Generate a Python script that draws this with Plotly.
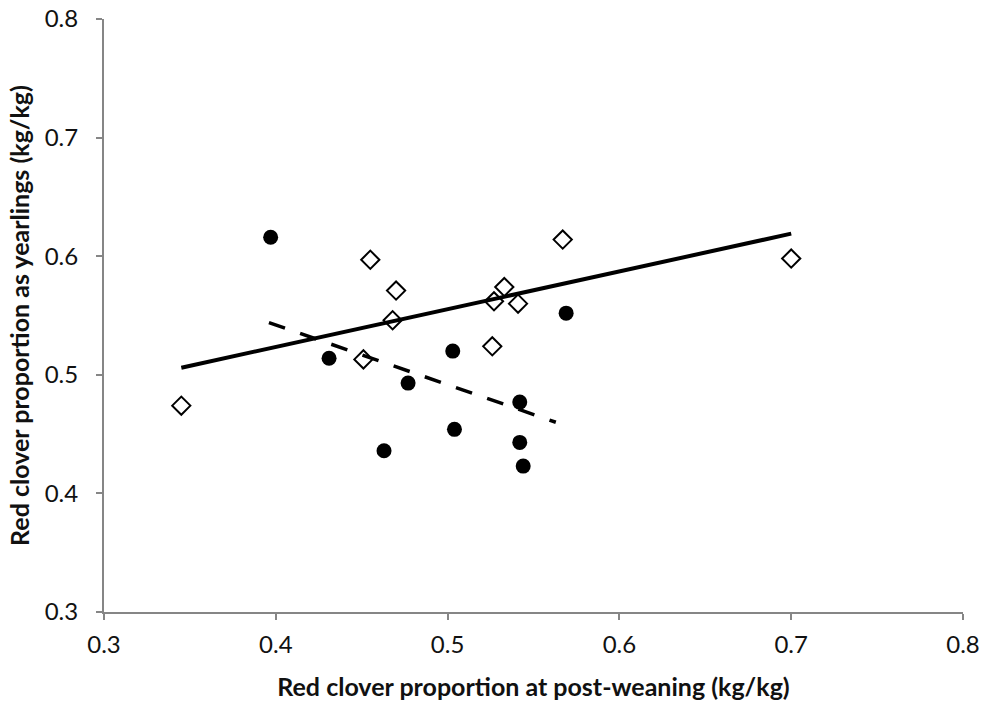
import plotly.graph_objects as go

# Filled circles series
circle_x = [0.397, 0.431, 0.477, 0.503, 0.463, 0.504, 0.542, 0.542, 0.544, 0.569]
circle_y = [0.616, 0.514, 0.493, 0.520, 0.436, 0.454, 0.477, 0.443, 0.423, 0.552]

# Open diamonds series
diamond_x = [0.345, 0.455, 0.470, 0.468, 0.451, 0.527, 0.533, 0.541, 0.526, 0.567, 0.700]
diamond_y = [0.474, 0.597, 0.571, 0.546, 0.513, 0.562, 0.574, 0.560, 0.524, 0.614, 0.598]

# Trend lines (endpoints)
solid_x = [0.345, 0.700]
solid_y = [0.506, 0.619]
dash_x = [0.396, 0.563]
dash_y = [0.544, 0.460]

x_ticks = [0.3, 0.4, 0.5, 0.6, 0.7, 0.8]
y_ticks = [0.3, 0.4, 0.5, 0.6, 0.7, 0.8]

fig = go.Figure()
fig.add_trace(go.Scatter(x=solid_x, y=solid_y, mode="lines",
                         line=dict(color="black", width=4), showlegend=False))
fig.add_trace(go.Scatter(x=dash_x, y=dash_y, mode="lines",
                         line=dict(color="black", width=3.5, dash="17px,16px"), showlegend=False))
fig.add_trace(go.Scatter(x=circle_x, y=circle_y, mode="markers",
                         marker=dict(symbol="circle", size=15, color="black"), showlegend=False))
fig.add_trace(go.Scatter(x=diamond_x, y=diamond_y, mode="markers",
                         marker=dict(symbol="diamond-open", size=14, color="black",
                                     line=dict(width=2, color="black")), showlegend=False))

font_family = "Lato, 'Open Sans', sans-serif"
fig.update_layout(
    width=984, height=707,
    margin=dict(l=104, r=21, t=19, b=95),
    plot_bgcolor="white", paper_bgcolor="white",
    font=dict(family=font_family, color="black", size=24),
)
fig.update_xaxes(
    range=[0.3, 0.8], tickvals=x_ticks, ticktext=[f"{v:.1f}" for v in x_ticks],
    automargin=False,
    showgrid=False, zeroline=False, showline=True, linecolor="#868686", linewidth=2,
    ticks="outside", ticklen=6, tickcolor="#868686", tickwidth=2,
    ticklabelstandoff=4,
    tickfont=dict(size=24, family=font_family, color="#111111"),
    title=dict(text="<b>Red clover proportion at post-weaning (kg/kg)</b>",
               font=dict(size=25, family=font_family, color="#111111"), standoff=22),
)
fig.update_yaxes(
    range=[0.3, 0.8], tickvals=y_ticks, ticktext=[f"{v:.1f}" for v in y_ticks],
    automargin=False,
    showgrid=False, zeroline=False, showline=True, linecolor="#868686", linewidth=2,
    ticks="outside", ticklen=6, tickcolor="#868686", tickwidth=2,
    ticklabelstandoff=13,
    tickfont=dict(size=24, family=font_family, color="#111111"),
    title=dict(text="<b>Red clover proportion as yearlings (kg/kg)</b>",
               font=dict(size=25, family=font_family, color="#111111"), standoff=8),
)

fig.write_html("out.html")
